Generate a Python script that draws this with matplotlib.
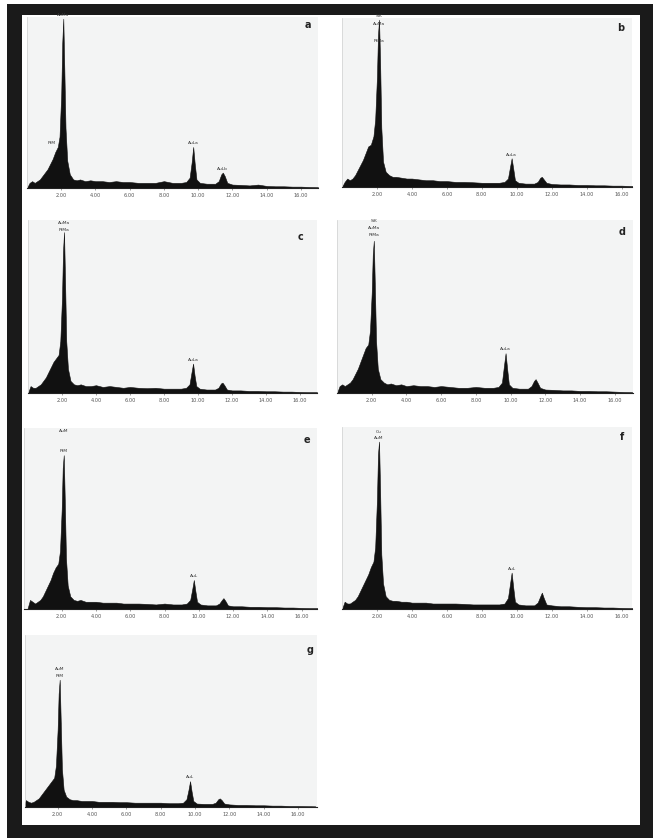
import numpy as np
import matplotlib
matplotlib.use("Agg")
import matplotlib.pyplot as plt
from matplotlib.patches import Rectangle

W, H = 653, 838

# energy grid (keV) shared by all spectra
energy_kev = [0.0, 0.15, 0.3, 0.45, 0.6, 0.75, 0.9, 1.05, 1.2, 1.35, 1.5, 1.65, 1.8, 1.9,
              2.0, 2.06, 2.12, 2.18, 2.25, 2.35, 2.5, 2.7, 2.9, 3.1, 3.4, 3.7, 4.0, 4.4,
              4.8, 5.2, 5.6, 6.0, 6.5, 7.0, 7.5, 8.0, 8.5, 9.0, 9.3, 9.5, 9.62, 9.71, 9.8,
              9.9, 10.1, 10.5, 11.0, 11.2, 11.35, 11.44, 11.55, 11.7, 12.0, 12.5, 13.0,
              13.5, 14.0, 14.5, 15.0, 15.5, 16.0, 16.5, 17.0]

counts_a = [0.0, 0.03, 0.04, 0.03, 0.04, 0.05, 0.07, 0.09, 0.11, 0.14, 0.17, 0.21, 0.24, 0.3,
            0.55, 0.85, 0.99, 0.7, 0.35, 0.16, 0.08, 0.05, 0.045, 0.05, 0.04, 0.045, 0.04, 0.04,
            0.035, 0.04, 0.035, 0.035, 0.03, 0.03, 0.03, 0.04, 0.03, 0.03, 0.035, 0.06, 0.15, 0.24, 0.14,
            0.05, 0.03, 0.025, 0.025, 0.04, 0.08, 0.09, 0.07, 0.03, 0.02, 0.018, 0.015,
            0.02, 0.012, 0.01, 0.01, 0.008, 0.008, 0.006, 0.005]
counts_b = [0.0, 0.03, 0.05, 0.04, 0.05, 0.07, 0.1, 0.13, 0.16, 0.2, 0.24, 0.25, 0.3, 0.4,
            0.65, 0.9, 0.99, 0.75, 0.35, 0.15, 0.09, 0.07, 0.06, 0.06, 0.055, 0.05, 0.05, 0.045,
            0.04, 0.04, 0.035, 0.035, 0.03, 0.03, 0.028, 0.025, 0.025, 0.025, 0.03, 0.05, 0.12, 0.17, 0.11,
            0.04, 0.025, 0.02, 0.02, 0.03, 0.055, 0.06, 0.045, 0.025, 0.018, 0.015, 0.015,
            0.012, 0.012, 0.01, 0.01, 0.008, 0.008, 0.006, 0.005]
counts_c = [0.0, 0.04, 0.03, 0.03, 0.04, 0.05, 0.07, 0.09, 0.12, 0.15, 0.18, 0.2, 0.22, 0.3,
            0.55, 0.82, 0.93, 0.65, 0.3, 0.14, 0.07, 0.05, 0.045, 0.05, 0.04, 0.04, 0.045, 0.035,
            0.04, 0.035, 0.03, 0.035, 0.03, 0.028, 0.03, 0.025, 0.025, 0.025, 0.03, 0.05, 0.12, 0.17, 0.1,
            0.04, 0.025, 0.02, 0.02, 0.03, 0.055, 0.06, 0.045, 0.02, 0.015, 0.015, 0.012,
            0.012, 0.01, 0.01, 0.008, 0.008, 0.006, 0.005, 0.005]
counts_d = [0.0, 0.04, 0.05, 0.04, 0.05, 0.06, 0.08, 0.11, 0.14, 0.18, 0.22, 0.26, 0.28, 0.36,
            0.58, 0.8, 0.88, 0.62, 0.3, 0.14, 0.08, 0.06, 0.05, 0.055, 0.045, 0.05, 0.04, 0.045,
            0.04, 0.04, 0.035, 0.04, 0.035, 0.03, 0.03, 0.035, 0.03, 0.03, 0.035, 0.06, 0.16, 0.23, 0.14,
            0.05, 0.03, 0.025, 0.025, 0.04, 0.07, 0.08, 0.06, 0.03, 0.02, 0.018, 0.015,
            0.015, 0.012, 0.012, 0.01, 0.01, 0.008, 0.006, 0.005]
counts_e = [0.0, 0.05, 0.04, 0.03, 0.04, 0.05, 0.07, 0.1, 0.13, 0.16, 0.2, 0.23, 0.25, 0.32,
            0.55, 0.78, 0.85, 0.6, 0.28, 0.13, 0.07, 0.05, 0.045, 0.05, 0.04, 0.04, 0.04, 0.035,
            0.035, 0.035, 0.03, 0.03, 0.03, 0.028, 0.025, 0.03, 0.025, 0.025, 0.03, 0.05, 0.11, 0.16, 0.1,
            0.04, 0.025, 0.02, 0.02, 0.03, 0.05, 0.06, 0.045, 0.02, 0.015, 0.015, 0.012,
            0.012, 0.01, 0.01, 0.008, 0.008, 0.006, 0.005, 0.005]
counts_f = [0.0, 0.04, 0.03, 0.03, 0.04, 0.05, 0.07, 0.1, 0.13, 0.16, 0.19, 0.23, 0.26, 0.34,
            0.6, 0.85, 0.92, 0.66, 0.3, 0.14, 0.07, 0.05, 0.045, 0.045, 0.04, 0.04, 0.035, 0.035,
            0.035, 0.03, 0.03, 0.03, 0.03, 0.028, 0.025, 0.025, 0.025, 0.025, 0.03, 0.06, 0.14, 0.2, 0.12,
            0.04, 0.025, 0.02, 0.02, 0.035, 0.07, 0.09, 0.06, 0.025, 0.02, 0.015, 0.015,
            0.012, 0.01, 0.01, 0.008, 0.008, 0.006, 0.005, 0.005]
counts_g = [0.0, 0.04, 0.03, 0.025, 0.03, 0.04, 0.05, 0.07, 0.09, 0.11, 0.13, 0.15, 0.17, 0.24,
            0.45, 0.66, 0.74, 0.5, 0.22, 0.1, 0.06, 0.045, 0.04, 0.04, 0.035, 0.035, 0.035, 0.03,
            0.03, 0.03, 0.028, 0.028, 0.025, 0.025, 0.025, 0.025, 0.022, 0.022, 0.025, 0.045, 0.1, 0.15, 0.09,
            0.035, 0.02, 0.018, 0.018, 0.025, 0.045, 0.05, 0.04, 0.02, 0.015, 0.012, 0.012,
            0.01, 0.01, 0.008, 0.008, 0.006, 0.006, 0.005, 0.004]

panel_letters = ["a", "b", "c", "d", "e", "f", "g"]
tick_values = [2, 4, 6, 8, 10, 12, 14, 16]
tick_labels = ["2.00", "4.00", "6.00", "8.00", "10.00", "12.00", "14.00", "16.00"]

# peak labels: (text, energy, height)
peak_labels = {
    "a": [("AuMa", 2.12, 1.0), ("PtM", 1.45, 0.25), ("AuLa", 9.71, 0.25), ("AuLb", 11.44, 0.1)],
    "b": [("SiK", 2.12, 1.0), ("AuMa", 2.12, 0.95), ("PtMa", 2.12, 0.85), ("AuLa", 9.71, 0.18)],
    "c": [("AuMa", 2.12, 0.97), ("PtMa", 2.12, 0.93), ("AuLa", 9.71, 0.18)],
    "d": [("SiK", 2.12, 0.98), ("AuMa", 2.12, 0.94), ("PtMa", 2.12, 0.9), ("AuLa", 9.71, 0.24)],
    "e": [("AuM", 2.12, 0.97), ("PtM", 2.12, 0.86), ("AuL", 9.71, 0.17)],
    "f": [("Cu", 2.12, 0.96), ("AuM", 2.12, 0.93), ("AuL", 9.71, 0.21)],
    "g": [("AuM", 2.12, 0.79), ("PtM", 2.12, 0.75), ("AuL", 9.71, 0.16)],
}

# layout in pixels: left, top, right, bottom of the plot area
boxes = {
    "a": (27, 17, 318, 188), "b": (342, 18, 632, 187),
    "c": (28, 220, 317, 393), "d": (337, 220, 633, 393),
    "e": (24, 428, 317, 609), "f": (342, 427, 632, 609),
    "g": (25, 635, 317, 807),
}
xlims = {"a": (0, 17), "b": (0, 16.6), "c": (0, 17), "d": (0, 17.05),
         "e": (-0.2, 16.9), "f": (0, 16.6), "g": (0.1, 17.1)}
letter_pos = {"a": (308, 25), "b": (621, 28), "c": (301, 237), "d": (622, 232),
              "e": (307, 440), "f": (622, 437), "g": (310, 650)}

spectra = dict(zip(panel_letters, [counts_a, counts_b, counts_c, counts_d,
                                   counts_e, counts_f, counts_g]))

fig = plt.figure(figsize=(W / 100, H / 100), dpi=100)
fig.patch.set_facecolor("white")

# black scan frame
fig.add_artist(Rectangle((7 / W, 0), 1 - 7 / W, 1 - 4 / H, transform=fig.transFigure,
                         facecolor="#1a1a1a", edgecolor="none", zorder=0))
fig.add_artist(Rectangle((22 / W, 1 - 825 / H), (640 - 22) / W, (825 - 15) / H,
                         transform=fig.transFigure, facecolor="white", edgecolor="none", zorder=0))

for key in panel_letters:
    l, t, r, b = boxes[key]
    ax = fig.add_axes([l / W, 1 - b / H, (r - l) / W, (b - t) / H])
    ax.set_facecolor("#f3f4f4")
    ax.fill_between(energy_kev, 0, spectra[key], color="#111111", lw=0.4, edgecolor="#111111")
    ax.set_xlim(*xlims[key])
    ax.set_ylim(0, 1.0)
    ax.set_yticks([])
    ax.set_xticks(tick_values)
    ax.set_xticklabels(tick_labels, fontsize=3.6, color="#444444")
    ax.tick_params(axis="x", length=1.5, width=0.4, pad=2, colors="#555555")
    for side in ["top", "right"]:
        ax.spines[side].set_visible(False)
    ax.spines["left"].set_color("#cfcfcf")
    ax.spines["left"].set_linewidth(0.5)
    ax.spines["bottom"].set_color("#222222")
    ax.spines["bottom"].set_linewidth(0.8)

    for text, ex, ey in peak_labels[key]:
        ax.text(ex, ey, text, fontsize=3.2, color="#333333", ha="center", va="bottom",
                clip_on=False)

    lx, ly = letter_pos[key]
    fig.text(lx / W, 1 - ly / H, key, fontsize=7, fontweight="bold", color="#222222",
             ha="center", va="center")

fig.savefig("out.png", dpi=100, facecolor=fig.get_facecolor())
